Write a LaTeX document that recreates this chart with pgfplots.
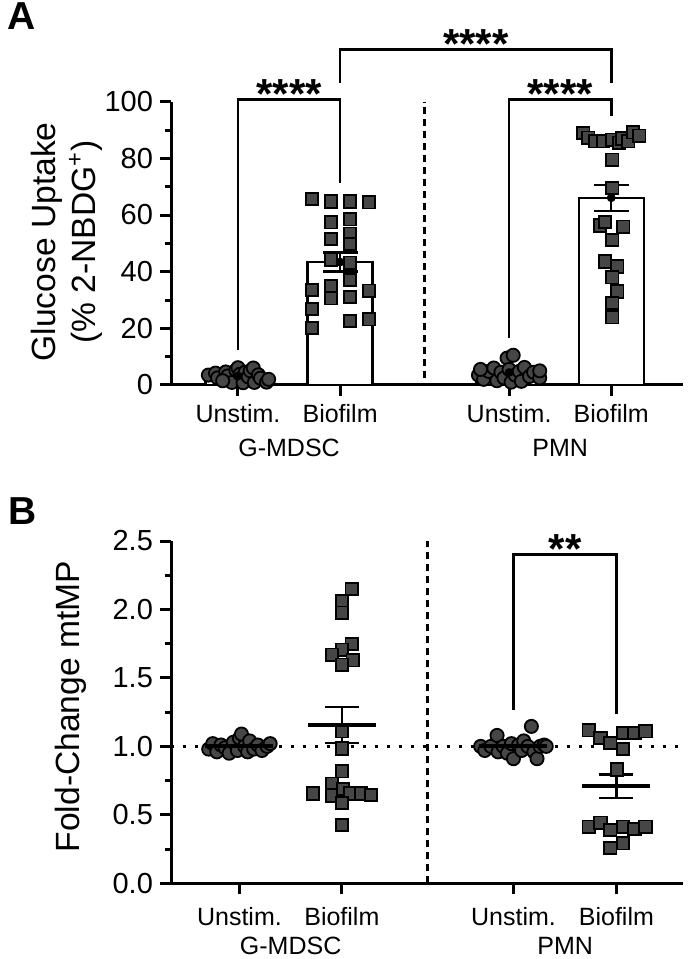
\documentclass[border=0pt]{standalone}
\usepackage{fontspec}
\setmainfont{Liberation Sans}
\usepackage{pgfplots}
\pgfplotsset{compat=1.18}
\definecolor{dot}{RGB}{70,70,70}

\pgfplotsset{
  prism/.style={
    scale only axis, width=256pt,
    axis x line*=bottom, axis y line*=left,
    axis line style={line width=1.5pt},
    tick style={line width=1.5pt, black},
    major tick length=5.5pt, minor tick length=3pt,
    tick align=outside,
    clip=false,
    minor x tick num=0, minor y tick num=1,
    yticklabel style={font=\fontsize{14.5}{16}\selectfont},
    xticklabel style={font=\fontsize{12.5}{14}\selectfont},
    xticklabels={Unstim.,Biofilm,Unstim.,Biofilm},
    /pgf/number format/assume math mode=true,
    ylabel style={font=\fontsize{16.8}{19.7}\selectfont, align=center, anchor=center},
  },
  sq/.style={only marks, mark=square*, mark size=3.1pt,
    mark options={fill=dot, draw=black, line width=0.9pt}},
  ci/.style={only marks, mark=*, mark size=3.3pt,
    mark options={fill=dot, draw=black, line width=0.9pt}},
  sem/.style={only marks, mark=none, error bars/.cd, y dir=both, y explicit,
    error bar style={line width=1.2pt, black},
    error mark options={rotate=90, line width=1.2pt, mark size=8.75pt, black}},
}
\tikzset{
  bracket/.style={line width=1.3pt},
  stars/.style={font=\fontsize{21}{21}\selectfont\bfseries, anchor=base, yshift=-4.5pt},
  grp/.style={font=\fontsize{12.5}{14}\selectfont},
}

\begin{document}
\begin{tikzpicture}
\useasboundingbox (0,0) rectangle (343.5pt,479.5pt);

\node[anchor=base west, font=\fontsize{19.5}{19.5}\selectfont\bfseries] at (0pt,464.5pt) {A};
\node[anchor=base west, font=\fontsize{19.5}{19.5}\selectfont\bfseries] at (0.5pt,217pt) {B};

% Panel A: glucose uptake
\begin{axis}[prism, at={(85.5pt,287pt)}, anchor=south west, height=141.65pt,
  xmin=0.344, xmax=5.358, ymin=0, ymax=100,
  ytick={0,20,...,100}, xtick={1,2,3.655,4.655},
  xticklabel style={yshift=-0.5pt},
  ylabel={Glucose Uptake\\(\% 2-NBDG\textsuperscript{+})},
  ylabel style={at={(axis description cs:-0.2035,0.505)}},
]
\addplot[ybar, bar width=32.5pt, bar shift=0pt, fill=white, draw=black, line width=1.2pt]
  coordinates {(1,3.2) (2,43.4) (3.655,4.4) (4.655,66.1)};
\draw[line width=1.5pt, dash pattern=on 3.5pt off 2.5pt] (axis cs:2.822,2.5) -- (axis cs:2.822,100);
\addplot[ci] coordinates {
  (0.71,3.5) (0.78,4.2) (0.80,2.5) (0.88,4.6) (0.90,3.2) (0.94,0.9) (0.98,5.2)
  (1.00,6.1) (1.02,3.8) (1.05,0.8) (1.07,4.5) (1.10,2.9) (1.12,5.0) (1.15,6.0)
  (1.16,0.9) (1.20,3.6) (1.22,2.4) (1.28,1.0) (1.30,2.0) (0.85,1.5)};
\addplot[sq] coordinates {
  (1.726,65.7) (1.912,64.8) (2.098,64.8) (2.284,64.5) (1.912,57.4) (2.098,58.5)
  (1.912,51.5) (2.098,53.4) (2.098,49.8) (1.912,44.2) (2.098,43.2) (1.726,33.6)
  (1.726,26.8) (1.726,20.1) (1.912,35.0) (1.912,30.6) (2.098,37.1) (2.098,31.0)
  (2.098,22.6) (2.284,33.3) (2.284,23.2)};
\addplot[ci] coordinates {
  (3.355,3.5) (3.405,2.0) (3.455,4.8) (3.505,6.0) (3.535,1.5) (3.575,4.5)
  (3.605,2.5) (3.635,9.5) (3.655,5.5) (3.675,1.0) (3.695,10.5) (3.715,3.5)
  (3.755,4.8) (3.775,1.3) (3.805,6.2) (3.855,3.0) (3.895,4.5) (3.955,2.5)
  (3.955,5.0) (3.375,5.5)};
\addplot[sq] coordinates {
  (4.381,89.0) (4.430,87.3) (4.498,86.0) (4.577,86.0) (4.665,86.6) (4.733,85.5)
  (4.763,87.0) (4.822,86.0) (4.870,89.2) (4.929,88.0)
  (4.665,79.5) (4.665,69.5) (4.547,56.3) (4.595,57.6) (4.773,55.9) (4.665,51.2)
  (4.595,43.6) (4.715,41.8) (4.665,38.0) (4.715,33.0) (4.665,29.0) (4.665,23.9)};
\addplot[sem] coordinates {
  (1,3.2) +- (0,0.45) (2,43.4) +- (0,3.3) (3.655,4.4) +- (0,0.6) (4.655,66.1) +- (0,4.6)};
\draw[bracket] (axis cs:1,12.4) |- (axis cs:2,100.7) -- (axis cs:2,71.4);
\draw[bracket] (axis cs:2,106.7) |- (axis cs:4.655,118.4) -- (axis cs:4.655,106.7);
\draw[bracket] (axis cs:3.655,16.6) |- (axis cs:4.655,100.7) -- (axis cs:4.655,94.8);
\node[stars] at (axis cs:1.5,100.7) {****};
\node[stars] at (axis cs:3.33,118.4) {****};
\node[stars] at (axis cs:4.155,100.7) {****};
\node[grp] at (axis cs:1.5,-22.3) {G-MDSC};
\node[grp] at (axis cs:4.155,-22.3) {PMN};
\end{axis}

% Panel B: mitochondrial membrane potential
\begin{axis}[prism, at={(85.5pt,37.85pt)}, anchor=south west, height=171.15pt,
  xmin=0.332, xmax=5.33, ymin=0, ymax=2.5,
  ytick={0,0.5,...,2.5}, xtick={1,2,3.675,4.68},
  yticklabel style={/pgf/number format/.cd, fixed, fixed zerofill, precision=1},
  xticklabel style={yshift=-3pt},
  ylabel={Fold-Change mtMP},
  ylabel style={at={(axis description cs:-0.195,0.516)}},
]
\draw[line width=1.5pt, dash pattern=on 1.5pt off 4.5pt] (axis cs:0.332,1) -- (axis cs:5.33,1);
\draw[line width=1.5pt, dash pattern=on 3.5pt off 2.5pt] (axis cs:2.834,0) -- (axis cs:2.834,2.5);
\addplot[ci] coordinates {
  (0.70,0.98) (0.74,1.02) (0.78,0.96) (0.82,1.01) (0.86,0.99) (0.90,0.95)
  (0.94,1.03) (0.98,0.97) (1.00,1.06) (1.02,1.09) (1.05,1.00) (1.08,0.96)
  (1.10,1.04) (1.14,0.98) (1.18,1.01) (1.22,0.97) (1.27,1.00) (1.30,1.02)};
\addplot[sq] coordinates {
  (2.095,2.148) (2.000,2.060) (2.000,1.977) (2.095,1.747) (2.000,1.706)
  (1.905,1.669) (2.105,1.628) (2.000,1.596) (2.000,1.110) (2.000,0.984)
  (2.000,0.818) (1.905,0.727) (1.720,0.656) (1.905,0.641) (2.010,0.690)
  (2.085,0.656) (2.185,0.656) (2.283,0.646) (2.000,0.587) (2.000,0.427)};
\addplot[ci] coordinates {
  (3.355,1.00) (3.395,0.97) (3.455,1.00) (3.515,1.08) (3.525,0.96) (3.575,1.00)
  (3.615,0.95) (3.655,1.02) (3.675,0.91) (3.725,1.01) (3.755,0.97) (3.775,1.04)
  (3.815,1.00) (3.850,1.146) (3.875,0.96) (3.905,0.91) (3.935,1.00) (3.975,1.01)
  (3.995,1.00)};
\addplot[sq] coordinates {
  (4.410,1.117) (4.524,1.061) (4.621,1.025) (4.745,1.098) (4.856,1.098)
  (4.963,1.110) (4.745,0.980) (4.687,0.831) (4.410,0.413) (4.524,0.442)
  (4.621,0.388) (4.745,0.413) (4.856,0.398) (4.963,0.413) (4.621,0.259)
  (4.745,0.292)};
\addplot[only marks, mark=-, mark size=17pt, mark options={line width=2pt, black},
  error bars/.cd, y dir=both, y explicit,
  error bar style={line width=1.2pt, black},
  error mark options={rotate=90, line width=1.2pt, mark size=8.5pt, black}]
  coordinates {(1,1.0) +- (0,0.012) (2,1.156) +- (0,0.13)
               (3.675,1.0) +- (0,0.013) (4.68,0.709) +- (0,0.085)};
\draw[bracket] (axis cs:3.675,1.268) |- (axis cs:4.68,2.403) -- (axis cs:4.68,1.239);
\node[stars] at (axis cs:4.18,2.403) {**};
\node[grp] at (axis cs:1.5,-0.455) {G-MDSC};
\node[grp] at (axis cs:4.18,-0.455) {PMN};
\end{axis}
\end{tikzpicture}
\end{document}
